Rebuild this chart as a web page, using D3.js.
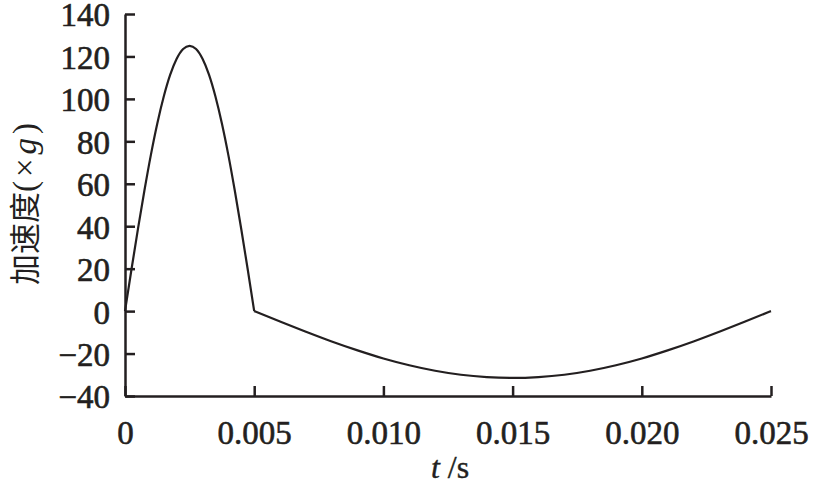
<!DOCTYPE html>
<html>
<head>
<meta charset="utf-8">
<script src="https://cdn.jsdelivr.net/npm/d3@7"></script>
<style>
  body { margin: 0; background: #fff; }
  svg { display: block; }
</style>
</head>
<body>
<svg id="chart" width="813" height="488"></svg>
<script>
// time (s) and acceleration (xg)
const timeA = [0, 0.00025, 0.0005, 0.00075, 0.001, 0.00125, 0.0015, 0.00175, 0.002, 0.00225, 0.0025,
               0.00275, 0.003, 0.00325, 0.0035, 0.00375, 0.004, 0.00425, 0.0045, 0.00475, 0.005];
const accelA = [0, 19.6, 38.6, 56.7, 73.5, 88.4, 101.1, 111.4, 118.9, 123.5, 125,
                123.5, 118.9, 111.4, 101.1, 88.4, 73.5, 56.7, 38.6, 19.6, 0];
const timeB = [0.005, 0.006, 0.007, 0.008, 0.009, 0.010, 0.011, 0.012, 0.013, 0.014, 0.015,
               0.016, 0.017, 0.018, 0.019, 0.020, 0.021, 0.022, 0.023, 0.024, 0.025];
const accelB = [0, -4.9, -9.7, -14.3, -18.5, -22.3, -25.5, -28.1, -30.0, -31.1, -31.5,
                -31.1, -30.0, -28.1, -25.5, -22.3, -18.5, -14.3, -9.7, -4.9, 0];

const xTicks = [0, 0.005, 0.010, 0.015, 0.020, 0.025];
const xTickLabels = ["0", "0.005", "0.010", "0.015", "0.020", "0.025"];
const yTicks = [-40, -20, 0, 20, 40, 60, 80, 100, 120, 140];

// pick a serif face that is actually installed
function pickFont(list) {
    const ctx = document.createElement("canvas").getContext("2d");
    const probe = "mmmmlliiWW0123.";
    const base = ["monospace", "sans-serif"].map(f => {
        ctx.font = "40px " + f;
        return ctx.measureText(probe).width;
    });
    for (const name of list) {
        const ok = ["monospace", "sans-serif"].every((f, i) => {
            ctx.font = `40px "${name}", ${f}`;
            return Math.abs(ctx.measureText(probe).width - base[i]) > 0.5;
        });
        if (ok) return `"${name}", serif`;
    }
    return "serif";
}
const serif = pickFont(["Liberation Serif", "Times New Roman", "Tinos", "Nimbus Roman", "Nimbus Roman No9 L",
                        "FreeSerif", "DejaVu Serif", "Noto Serif", "Noto Serif CJK SC", "Source Serif Pro"]);

const svg = d3.select("#chart");
const ink = "#231f20";

const x = d3.scaleLinear().domain([0, 0.025]).range([125, 771]);
const y = d3.scaleLinear().domain([-40, 140]).range([396, 14]);

function styleAxis(g) {
    g.attr("font-family", serif).attr("font-size", 33);
    g.select(".domain").attr("stroke", ink).attr("stroke-width", 2.5);
    g.selectAll(".tick line").attr("stroke", ink).attr("stroke-width", 2.5);
    g.selectAll(".tick text")
        .attr("fill", ink)
        .attr("stroke", ink)
        .attr("stroke-width", 0.6);
}

// x axis, ticks pointing inward
const xAxis = d3.axisBottom(x)
    .tickValues(xTicks)
    .tickFormat((d, i) => xTickLabels[i])
    .tickSizeInner(-10)
    .tickSizeOuter(0)
    .tickPadding(21);
const gx = svg.append("g").attr("transform", "translate(0,396)").call(xAxis).call(styleAxis);
gx.selectAll(".tick text").attr("dy", "0.82em");

// y axis
const yAxis = d3.axisLeft(y)
    .tickValues(yTicks)
    .tickFormat(d => d < 0 ? "\u2212" + Math.abs(d) : d)
    .tickSizeInner(-10)
    .tickSizeOuter(0)
    .tickPadding(15);
const gy = svg.append("g").attr("transform", "translate(125,0)").call(yAxis).call(styleAxis);
gy.selectAll(".tick text").attr("dy", "0.36em");

// curve
const line = d3.line().x(d => x(d[0])).y(d => y(d[1])).curve(d3.curveMonotoneX);
svg.append("path")
    .datum(timeA.map((t, i) => [t, accelA[i]]))
    .attr("d", line)
    .attr("fill", "none")
    .attr("stroke", ink)
    .attr("stroke-width", 2.2);
svg.append("path")
    .datum(timeB.map((t, i) => [t, accelB[i]]))
    .attr("d", line)
    .attr("fill", "none")
    .attr("stroke", ink)
    .attr("stroke-width", 2.2);

// axis titles
const yTitle = svg.append("text")
    .attr("transform", "translate(36,204) rotate(-90)")
    .attr("text-anchor", "middle")
    .attr("fill", ink);
yTitle.append("tspan")
    .style("font-family", "'Noto Sans CJK SC', sans-serif")
    .style("font-size", "31px")
    .text("加速度");
yTitle.append("tspan")
    .style("font-family", serif)
    .style("font-size", "33px")
    .style("letter-spacing", "4px")
    .text("(×");
yTitle.append("tspan")
    .style("font-family", serif)
    .style("font-size", "33px")
    .style("font-style", "italic")
    .style("letter-spacing", "4px")
    .text("g");
yTitle.append("tspan")
    .style("font-family", serif)
    .style("font-size", "33px")
    .text(")");

const xTitle = svg.append("text")
    .attr("x", 450)
    .attr("y", 478)
    .attr("text-anchor", "middle")
    .attr("fill", ink)
    .attr("stroke", ink)
    .attr("stroke-width", 0.4)
    .style("font-family", serif)
    .style("font-size", "32px");
xTitle.append("tspan").style("font-style", "italic").text("t");
xTitle.append("tspan").text(" /s");
</script>
</body>
</html>
